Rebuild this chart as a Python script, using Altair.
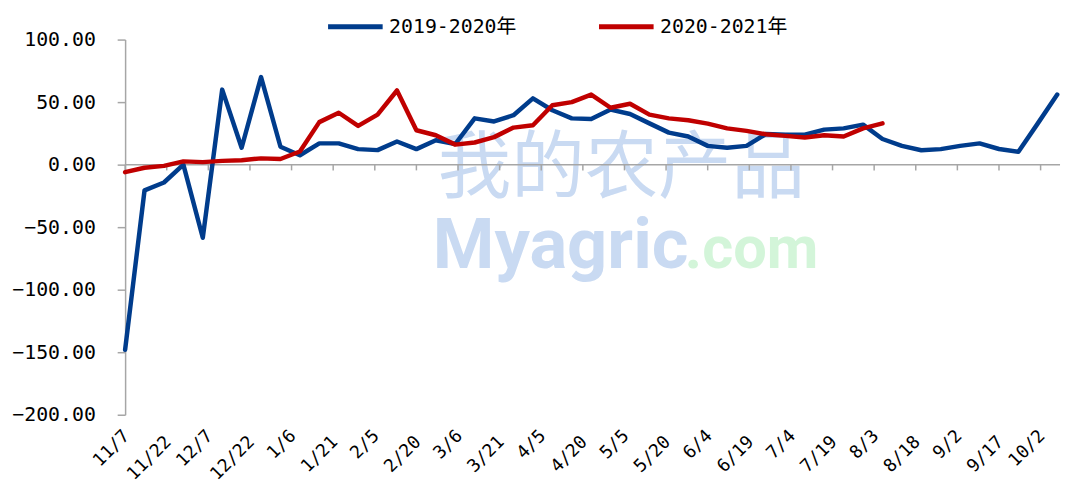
import altair as alt
import pandas as pd

# ---- data ----
dates = [
    "2019-11-07", "2019-11-14", "2019-11-21", "2019-11-28", "2019-12-05", "2019-12-12",
    "2019-12-19", "2019-12-26", "2020-01-02", "2020-01-09", "2020-01-16", "2020-01-23",
    "2020-01-30", "2020-02-06", "2020-02-13", "2020-02-20", "2020-02-27", "2020-03-05",
    "2020-03-12", "2020-03-19", "2020-03-26", "2020-04-02", "2020-04-09", "2020-04-16",
    "2020-04-23", "2020-04-30", "2020-05-07", "2020-05-14", "2020-05-21", "2020-05-28",
    "2020-06-04", "2020-06-11", "2020-06-18", "2020-06-25", "2020-07-02", "2020-07-09",
    "2020-07-16", "2020-07-23", "2020-07-30", "2020-08-06", "2020-08-13", "2020-08-20",
    "2020-08-27", "2020-09-03", "2020-09-10", "2020-09-17", "2020-09-24", "2020-10-01",
    "2020-10-08",
]
series_names = ["2019-2020年", "2020-2021年"]
values_1920 = [
    -148, -20.6, -14.3, 0, -58.5, 60, 13.5, 70, 14.3, 7.5, 17, 17, 12.4, 11.6, 18.5,
    12.4, 19.5, 16.5, 37, 34.5, 39.5, 53, 43.5, 37, 36.5, 44, 40.5, 33, 25.6, 22.5,
    15, 13.5, 15, 24.5, 24, 24, 28, 29, 32, 20.5, 15, 11.5, 12.4, 15, 17, 12.5,
    10.3, 33, 56,
]
values_2021 = [
    -6, -2.5, -1, 2.6, 2, 3, 3.5, 5, 4.5, 10.5, 34, 41.5, 31, 40, 59.3, 27.5, 23.5,
    16, 17.7, 22, 29.6, 31.5, 47.5, 50, 56, 45.5, 48.7, 40, 37, 35.5, 32.8, 29, 27,
    24.3, 23, 21.7, 23.5, 22.5, 29, 33,
]
tick_dates = [
    "2019-11-07", "2019-11-22", "2019-12-07", "2019-12-22", "2020-01-06", "2020-01-21",
    "2020-02-05", "2020-02-20", "2020-03-06", "2020-03-21", "2020-04-05", "2020-04-20",
    "2020-05-05", "2020-05-20", "2020-06-04", "2020-06-19", "2020-07-04", "2020-07-19",
    "2020-08-03", "2020-08-18", "2020-09-02", "2020-09-17", "2020-10-02",
]
y_ticks = [-200, -150, -100, -50, 0, 50, 100]
colors = ["#003C8C", "#C00000"]

# ---- build tables ----
rows = []
for d, v in zip(dates, values_1920):
    rows.append({"date": d, "value": v, "series": series_names[0]})
for d, v in zip(dates, values_2021):
    rows.append({"date": d, "value": v, "series": series_names[1]})
df = pd.DataFrame(rows)
tick_df = pd.DataFrame({"date": tick_dates})


def dt(s):
    y, m, d = (int(p) for p in s.split("-"))
    return alt.DateTime(year=y, month=m, date=d, utc=True)


axis_grey = "#A6A6A6"
mono = "DejaVu Sans Mono, Noto Sans CJK SC"

x_scale = alt.Scale(type="utc", domain=[dt("2019-11-07"), dt("2020-10-09")])
y_scale = alt.Scale(domain=[-200, 100], nice=False)

# every second label sits a little lower, as in the reference
odd_label = "round((datum.value - 1573084800000) / 1296000000) % 2 === 1"

x_axis = alt.Axis(
    values=[dt(s) for s in tick_dates],
    labelExpr="utcFormat(datum.value, '%-m/%-d')",
    labelAngle=-45,
    labelFont=mono,
    labelFontSize=18,
    labelColor="#000000",
    labelPadding={"condition": {"test": odd_label, "value": 18}, "value": 12},
    labelOffset=-5,
    domain=False,
    ticks=False,
    grid=False,
    title=None,
    labelOverlap=False,
)
y_axis = alt.Axis(
    values=y_ticks,
    format=".2f",
    labelFont=mono,
    labelFontSize=20,
    labelColor="#000000",
    labelPadding=22,
    domainColor=axis_grey,
    domainWidth=1.5,
    tickColor=axis_grey,
    tickWidth=1.5,
    tickSize=8,
    grid=False,
    title=None,
)

one = alt.Data(values=[{}])

wm_cn = alt.Chart(one).mark_text(
    text="我的农产品", font="Noto Sans CJK SC", fontSize=74, color="#C9DAF2",
    align="center", baseline="middle",
).encode(x=alt.value(500), y=alt.value(132))
wm_en = alt.Chart(one).mark_text(
    text="Myagric", font="Roboto", fontSize=71, fontWeight="bold", color="#C9DAF2",
    align="left", baseline="alphabetic",
).encode(x=alt.value(310), y=alt.value(230))
wm_com = alt.Chart(one).mark_text(
    text=".com", font="Roboto", fontSize=60, fontWeight="bold", color="#D3F5D9",
    align="left", baseline="alphabetic",
).encode(x=alt.value(564), y=alt.value(230))

zero_line = alt.Chart(one).mark_rule(color=axis_grey, strokeWidth=1.5).encode(
    y=alt.datum(0, scale=y_scale)
)
x_ticks = alt.Chart(tick_df).mark_rule(color=axis_grey, strokeWidth=1.5).encode(
    x=alt.X("date:T", scale=x_scale, axis=x_axis),
    y=alt.datum(0),
    y2=alt.datum(-4.6),
)

lines = alt.Chart(df).mark_line(strokeWidth=4.5, strokeJoin="round", strokeCap="round").encode(
    x=alt.X("date:T", scale=x_scale, axis=x_axis),
    y=alt.Y("value:Q", scale=y_scale, axis=y_axis),
    color=alt.Color(
        "series:N",
        scale=alt.Scale(domain=series_names, range=colors),
        legend=alt.Legend(
            title=None,
            orient="none",
            legendX=202,
            legendY=-43,
            direction="horizontal",
            symbolType="stroke",
            symbolSize=3025,
            symbolStrokeWidth=5,
            labelFont=mono,
            labelFontSize=20,
            labelColor="#000000",
            labelOffset=4,
            columnPadding=72,
        ),
    ),
    order=alt.Order("date:T"),
)

chart = (
    alt.layer(wm_cn, wm_en, wm_com, zero_line, x_ticks, lines)
    .properties(
        width=942,
        height=378,
        autosize=alt.AutoSizeParams(type="none"),
        padding={"left": 118, "top": 30, "right": 3, "bottom": 72},
    )
    .configure_view(stroke=None)
)

chart.save("out.html", embed_options={"renderer": "svg", "actions": False})
